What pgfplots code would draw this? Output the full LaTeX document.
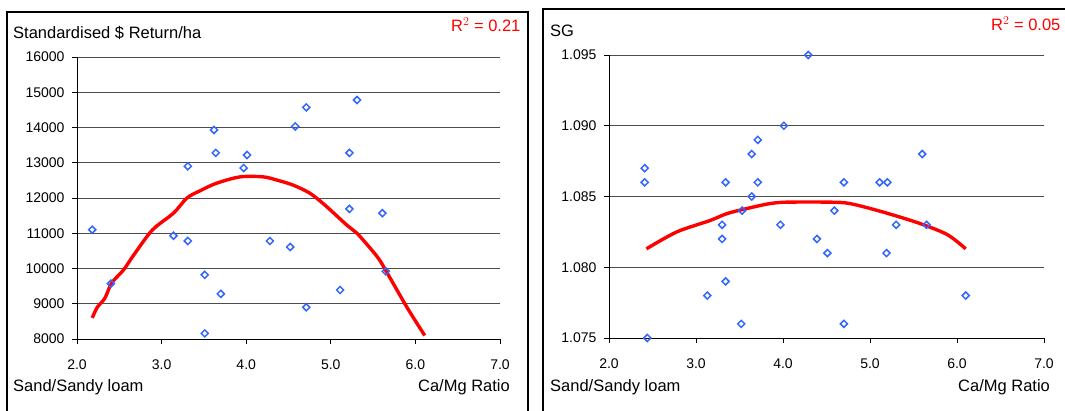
\documentclass[border=0pt]{standalone}
\usepackage{fontspec}
\setmainfont{Liberation Sans}
\usepackage{pgfplots}
\pgfplotsset{compat=1.18}
\definecolor{ptblue}{RGB}{51,102,255}
\pgfplotsset{
  panel/.style={scale only axis, anchor=south west, clip=false,
    axis x line*=bottom, axis y line*=left,
    ymajorgrids, grid style={black!70, line width=0.8pt},
    axis line style={black, line width=0.9pt},
    tick style={black, line width=0.9pt}, major tick length=5pt, tick align=outside,
    xmin=2, xmax=7, xtick={2,3,...,7},
    ticklabel style={font=\fontsize{14}{15}\selectfont},
    /pgf/number format/assume math mode=true,
    xticklabel style={/pgf/number format/fixed, /pgf/number format/fixed zerofill,
      /pgf/number format/precision=1, yshift=-12pt},
    yticklabel style={xshift=-4pt}},
  pts/.style={only marks, mark=square, mark size=2.5pt,
    mark options={rotate=45, draw=ptblue, line width=1.5pt, fill=none}},
  fitline/.style={red, line width=3.4pt, no marks, smooth}
}
\begin{document}
\begin{tikzpicture}
\useasboundingbox (0pt,0pt) rectangle (1065pt,410pt);
\clip (0pt,0pt) rectangle (1065pt,410pt);
% panel frames
\draw[black, line width=1.2pt] (7pt,-5pt) rectangle (528pt,398pt);
\draw[black, line width=1.2pt] (543pt,-5pt) rectangle (1075pt,401pt);

% left panel: $ return
\begin{axis}[panel, at={(77pt,71pt)}, width=423pt, height=282pt,
  ymin=8000, ymax=16000, ytick={8000,9000,...,16000}, scaled y ticks=false,
  yticklabel style={/pgf/number format/fixed, /pgf/number format/1000 sep={}}]
\addplot[pts] coordinates {
  (3.31,12900) (3.62,13930) (3.64,13280) (4.01,13220) (3.97,12850)
  (4.58,14030) (4.71,14570) (5.31,14780) (5.22,13280)
  (2.18,11100) (2.40,9570) (3.14,10930) (3.31,10780) (3.51,9820)
  (3.51,8160) (3.70,9280) (4.28,10780) (4.52,10610) (4.71,8900)
  (5.11,9390) (5.22,11690) (5.61,11570) (5.65,9920)};
\addplot[fitline] coordinates {
  (2.18,8600) (2.24,8900) (2.33,9160) (2.41,9590) (2.55,9960) (2.67,10380)
  (2.89,11090) (3.14,11570) (3.30,12000) (3.45,12200) (3.65,12420)
  (3.93,12600) (4.20,12600) (4.36,12510) (4.55,12370) (4.75,12140)
  (4.93,11800) (5.19,11230) (5.31,11000) (5.55,10330) (5.66,9900)
  (5.90,8900) (6.11,8100)};
\end{axis}

% right panel: SG
\begin{axis}[panel, at={(609pt,72pt)}, width=435pt, height=283pt,
  ymin=1.075, ymax=1.095, ytick={1.075,1.080,...,1.095},
  yticklabel style={/pgf/number format/fixed, /pgf/number format/fixed zerofill,
    /pgf/number format/precision=3}]
\addplot[pts] coordinates {
  (2.41,1.087) (2.41,1.086) (3.34,1.086) (3.64,1.088) (3.71,1.089)
  (3.71,1.086) (3.64,1.085) (4.01,1.090) (4.29,1.095) (4.70,1.086)
  (5.11,1.086) (5.20,1.086) (5.60,1.088)
  (3.53,1.084) (3.30,1.083) (3.30,1.082) (3.97,1.083) (4.39,1.082)
  (4.51,1.081) (4.59,1.084) (5.19,1.081) (5.30,1.083) (5.65,1.083)
  (3.34,1.079) (3.13,1.078) (3.52,1.076) (4.70,1.076) (2.44,1.075)
  (6.10,1.078)};
\addplot[fitline] coordinates {
  (2.43,1.0813) (2.78,1.0825) (3.16,1.0833) (3.36,1.0838) (3.62,1.0842)
  (3.85,1.0845) (4.05,1.0846) (4.54,1.0846) (4.77,1.0845) (5.15,1.0839)
  (5.57,1.0831) (5.89,1.0823) (6.10,1.0813)};
\end{axis}

% texts
\begin{scope}[every node/.style={font=\fontsize{16.5}{18}\selectfont, inner sep=0pt}]
\node[anchor=west] at (13pt,377pt) {Standardised \$ Return/ha};
\node[anchor=west, red] at (451pt,385pt) {R$^{2}$ = 0.21};
\node[anchor=west] at (13pt,23pt) {Sand/Sandy loam};
\node[anchor=east] at (510pt,23pt) {Ca/Mg Ratio};
\node[anchor=west] at (550pt,379pt) {SG};
\node[anchor=west, red] at (991pt,386pt) {R$^{2}$ = 0.05};
\node[anchor=west] at (550pt,23pt) {Sand/Sandy loam};
\node[anchor=west] at (958pt,23pt) {Ca/Mg Ratio};
\end{scope}
\end{tikzpicture}
\end{document}
